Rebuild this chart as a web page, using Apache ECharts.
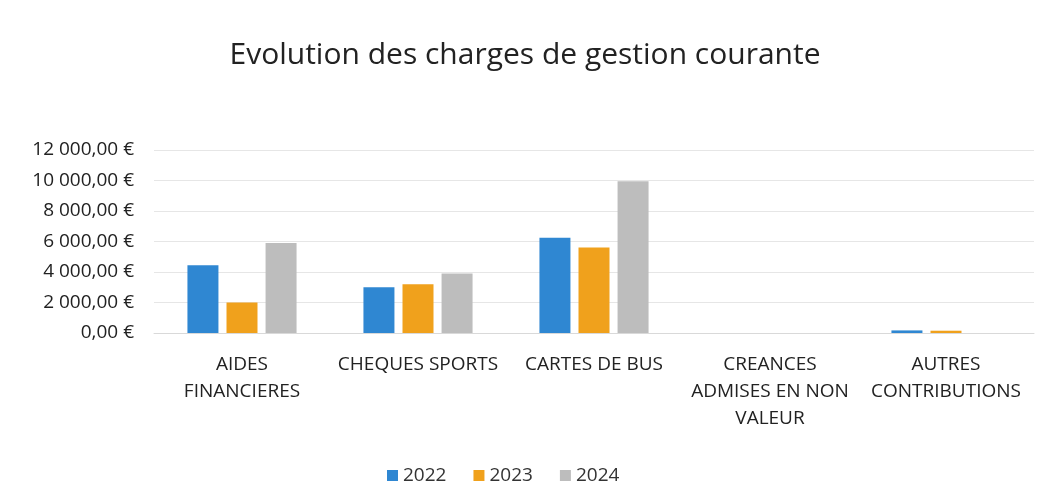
<!DOCTYPE html>
<html>
<head>
<meta charset="utf-8">
<script src="https://cdn.jsdelivr.net/npm/echarts@6/dist/echarts.min.js"></script>
<style>
  html, body { margin: 0; padding: 0; background: #fff; }
  #chart { width: 1050px; height: 502px; }
</style>
</head>
<body>
<div id="chart"></div>
<script>
// catégories (axe X)
const categories = [
  'AIDES\nFINANCIERES',
  'CHEQUES SPORTS',
  'CARTES DE BUS',
  'CREANCES\nADMISES EN NON\nVALEUR',
  'AUTRES\nCONTRIBUTIONS'
]
const years = ['2022', '2023', '2024']
const values2022 = [4450, 3000, 6250, 0, 170]
const values2023 = [2000, 3200, 5600, 0, 150]
const values2024 = [5900, 3900, 9950, 0, 0]
const colors = ['#2f87d2', '#f0a11c', '#bdbdbd']

const font = '"Open Sans", "Liberation Sans", sans-serif'

// format "12 000,00 €"
function euro(v) {
  let s = Math.round(v).toString().replace(/\B(?=(\d{3})+(?!\d))/g, ' ')
  return s + ',00 €'
}

const chart = echarts.init(document.getElementById('chart'))
const seriesData = [values2022, values2023, values2024]

chart.setOption({
  animation: false,
  title: {
    text: 'Evolution des charges de gestion courante',
    left: 'center',
    top: 35,
    textStyle: { fontFamily: font, fontSize: 30, fontWeight: 'normal', color: '#222' }
  },
  legend: {
    data: years,
    bottom: 12,
    left: 382,
    itemWidth: 11,
    itemHeight: 11,
    itemGap: 27,
    icon: 'rect',
    textStyle: { fontFamily: font, fontSize: 19, color: '#333' }
  },
  grid: {
    left: 154,
    right: 16,
    top: 150,
    bottom: 169
  },
  xAxis: {
    type: 'category',
    data: categories,
    axisTick: { show: false },
    axisLine: { lineStyle: { color: '#d9d9d9' } },
    axisLabel: {
      fontFamily: font,
      fontSize: 19,
      lineHeight: 27,
      color: '#222',
      margin: 18,
      interval: 0
    }
  },
  yAxis: {
    type: 'value',
    min: 0,
    max: 12000,
    interval: 2000,
    splitLine: { lineStyle: { color: '#e6e6e6' } },
    axisLabel: {
      fontFamily: font,
      fontSize: 19,
      color: '#222',
      margin: 20,
      formatter: euro
    }
  },
  series: years.map((y, i) => ({
    name: y,
    type: 'bar',
    data: seriesData[i],
    barWidth: 31,
    barGap: '26%',
    itemStyle: { color: colors[i] }
  }))
})
</script>
</body>
</html>
